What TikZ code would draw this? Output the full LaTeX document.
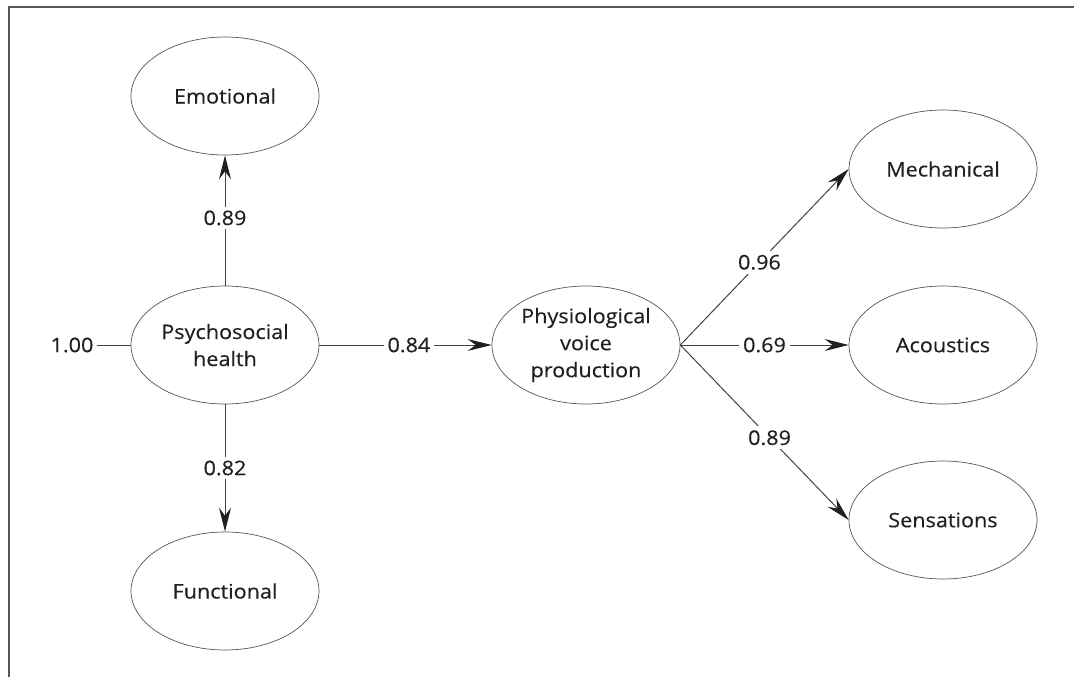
\documentclass[tikz,border=0pt]{standalone}
\usepackage{fontspec}
\setmainfont{Open Sans}[FakeStretch=1.08,FakeBold=0.4]
\usetikzlibrary{arrows.meta,shapes.geometric}
\definecolor{ink}{HTML}{231F20}
\definecolor{edge}{HTML}{555555}
\tikzset{
  latent/.style={ellipse, draw=edge, line width=0.7pt, minimum width=188pt, minimum height=118pt, inner sep=0pt, align=center, text=ink, font=\fontsize{20}{27}\selectfont},
  path/.style={draw=ink!85, line width=1pt},
  arr/.style={path, -{Stealth[length=24pt, width=12pt, inset=8pt, color=ink, fill=ink]}},
  coef/.style={fill=white, inner sep=4pt, text=ink, font=\fontsize{20}{27}\selectfont},
  frame/.style={draw=ink!75, line width=1.5pt}
}
\begin{document}
\begin{tikzpicture}[x=1pt, y=-1pt]
\useasboundingbox (0,0) rectangle (1074,677);
\coordinate (fl) at (9,677);
\coordinate (ft) at (9,7);
\coordinate (fr) at (1074,7);
\draw[frame] (fl) -- (ft) -- (fr);

\node[latent] (emo) at (225,96) {Emotional};
\node[latent] (psy) at (225,345) {Psychosocial\\health};
\node[latent] (fun) at (225,591) {Functional};
\node[latent] (phy) at (586,345) {Physiological\\voice\\production};
\node[latent] (mec) at (943,169) {Mechanical};
\node[latent] (aco) at (943,345) {Acoustics};
\node[latent] (sen) at (943,520) {Sensations};

\node[coef, inner sep=3pt] (one) at (72,345) {1.00};
\draw[path] (one) -- (psy.west);

\draw[arr] (psy.north) -- node[coef, pos=0.52] {0.89} (emo.south);
\draw[arr] (psy.south) -- node[coef, pos=0.5] {0.82} (fun.north);
\draw[arr] (psy.east) -- node[coef, pos=0.52] {0.84} (phy.west);
\draw[arr] (phy.east) -- node[coef, pos=0.47] {0.96} (mec.west);
\draw[arr] (phy.east) -- node[coef, pos=0.5] {0.69} (aco.west);
\draw[arr] (phy.east) -- node[coef, pos=0.53] {0.89} (sen.west);
\end{tikzpicture}
\end{document}
